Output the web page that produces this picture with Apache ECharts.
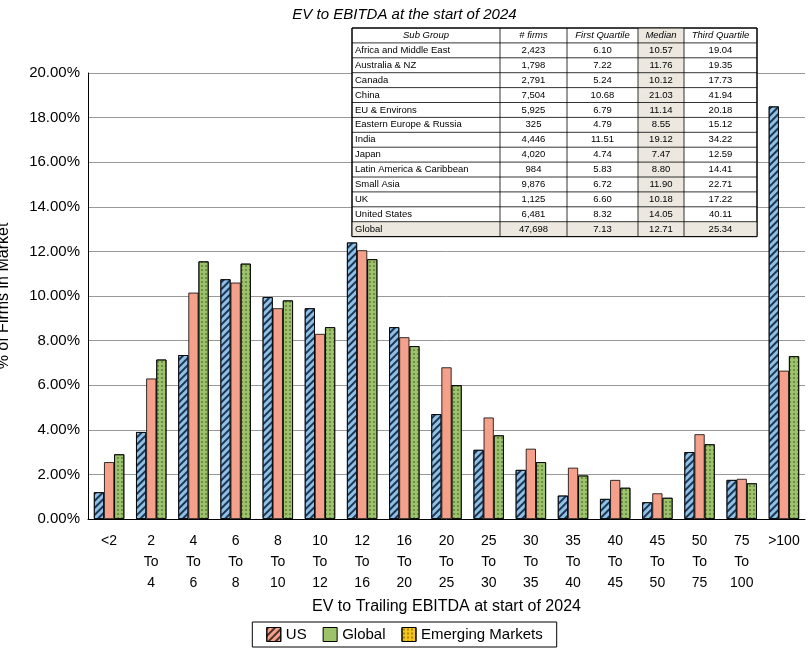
<!DOCTYPE html>
<html><head><meta charset="utf-8">
<script src="https://cdn.jsdelivr.net/npm/echarts@6/dist/echarts.min.js"></script>
<style>html,body{margin:0;padding:0;background:#fff}#c{width:809px;height:651px}</style>
</head><body><div id="c"></div>
<script>
const categories=["<2","2\nTo\n4","4\nTo\n6","6\nTo\n8","8\nTo\n10","10\nTo\n12","12\nTo\n16","16\nTo\n20","20\nTo\n25","25\nTo\n30","30\nTo\n35","35\nTo\n40","40\nTo\n45","45\nTo\n50","50\nTo\n75","75\nTo\n100",">100"];
const usValues=[1.2,3.9,7.35,10.75,9.95,9.45,12.4,8.6,4.7,3.1,2.2,1.05,0.9,0.75,3.0,1.75,18.5];
const globalValues=[2.55,6.3,10.15,10.6,9.45,8.3,12.05,8.15,6.8,4.55,3.15,2.3,1.75,1.15,3.8,1.8,6.65];
const emValues=[2.9,7.15,11.55,11.45,9.8,8.6,11.65,7.75,6.0,3.75,2.55,1.95,1.4,0.95,3.35,1.6,7.3];
const tableHeader=["Sub Group","# firms","First Quartile","Median","Third Quartile"];
const tableRows=[
["Africa and Middle East","2,423","6.10","10.57","19.04"],
["Australia & NZ","1,798","7.22","11.76","19.35"],
["Canada","2,791","5.24","10.12","17.73"],
["China","7,504","10.68","21.03","41.94"],
["EU & Environs","5,925","6.79","11.14","20.18"],
["Eastern Europe & Russia","325","4.79","8.55","15.12"],
["India","4,446","11.51","19.12","34.22"],
["Japan","4,020","4.74","7.47","12.59"],
["Latin America & Caribbean","984","5.83","8.80","14.41"],
["Small Asia","9,876","6.72","11.90","22.71"],
["UK","1,125","6.60","10.18","17.22"],
["United States","6,481","8.32","14.05","40.11"],
["Global","47,698","7.13","12.71","25.34"]];
const colX=[352,500,567,638,684,757];
const tTop=28,rowH=14.9;
const g=[];
const nRows=tableRows.length+1;
const tBottom=tTop+rowH*nRows;
g.push({type:'rect',shape:{x:colX[0],y:tTop,width:colX[5]-colX[0],height:tBottom-tTop},style:{fill:'#fff',stroke:'#000',lineWidth:1},z:10});
g.push({type:'rect',shape:{x:colX[3],y:tTop,width:colX[4]-colX[3],height:tBottom-tTop},style:{fill:'#ece8df'},z:10});
g.push({type:'rect',shape:{x:colX[0],y:tTop+rowH*(nRows-1),width:colX[5]-colX[0],height:rowH},style:{fill:'#ece8df'},z:10});
for(let i=1;i<nRows;i++)g.push({type:'line',shape:{x1:colX[0],y1:tTop+rowH*i,x2:colX[5],y2:tTop+rowH*i},style:{stroke:'#000',lineWidth:0.8},z:11});
for(let j=1;j<5;j++)g.push({type:'line',shape:{x1:colX[j],y1:tTop,x2:colX[j],y2:tBottom},style:{stroke:'#000',lineWidth:0.8},z:11});
g.push({type:'rect',shape:{x:colX[0],y:tTop,width:colX[5]-colX[0],height:tBottom-tTop},style:{fill:null,stroke:'#000',lineWidth:1},z:12});
const allRows=[tableHeader].concat(tableRows);
allRows.forEach((r,i)=>{r.forEach((t,j)=>{
 const left=(j===0&&i>0);
 g.push({type:'text',z:13,style:{text:t,x:left?colX[0]+3:(colX[j]+colX[j+1])/2,y:tTop+rowH*i+rowH/2,align:left?'left':'center',verticalAlign:'middle',font:(i===0?'italic ':'')+'9.5px "Liberation Sans", Arial',fill:'#000'}});
});});
const chart=echarts.init(document.getElementById('c'));
const mk=(name,data,color,decal)=>({name,type:'bar',data,barGap:'0%',barCategoryGap:'28%',itemStyle:{color,borderColor:'#000',borderWidth:0.8,decal}});
chart.setOption({
 animation:false,
 aria:{enabled:false},
 title:{text:'EV to EBITDA at the start of 2024',left:'center',top:2,textStyle:{fontStyle:'italic',fontWeight:'normal',fontSize:15,fontFamily:'Liberation Sans',color:'#000'}},
 grid:{left:88,right:4,top:73,bottom:132,containLabel:false,outerBoundsMode:'none'},
 legend:{bottom:4,left:'center',icon:'rect',itemWidth:14,itemHeight:14,itemGap:16,borderColor:'#000',borderWidth:1,padding:[5,14],textStyle:{fontSize:15,fontFamily:'Liberation Sans',color:'#000'},
  data:[{name:'US',itemStyle:{color:'#f4a08a',borderColor:'#000',borderWidth:1,decal:{symbol:'rect',dashArrayX:[1,0],dashArrayY:[2,3],rotation:-Math.PI/4,color:'rgba(0,0,0,0.7)'}}},
        {name:'Global',itemStyle:{color:'#9cc26a',borderColor:'#000',borderWidth:1}},
        {name:'Emerging Markets',itemStyle:{color:'#f5c518',borderColor:'#000',borderWidth:1,decal:{symbol:'circle',symbolSize:0.4,dashArrayX:[4,0],dashArrayY:[4,0],color:'rgba(0,0,0,0.7)'}}}]},
 xAxis:{type:'category',data:categories,name:'EV to Trailing EBITDA at start of 2024',nameLocation:'middle',nameGap:75,nameTextStyle:{fontSize:16,fontFamily:'Liberation Sans',color:'#000'},axisTick:{show:false},axisLine:{lineStyle:{color:'#000'}},axisLabel:{interval:0,fontSize:14,lineHeight:21,fontFamily:'Liberation Sans',color:'#000',margin:12}},
 yAxis:{type:'value',min:0,max:20,interval:2,name:'% of Firms in Market',nameLocation:'middle',nameGap:76,nameTextStyle:{fontSize:16,fontFamily:'Liberation Sans',color:'#000'},axisLine:{show:true,lineStyle:{color:'#000'}},splitLine:{lineStyle:{color:'#999'}},axisLabel:{formatter:v=>v.toFixed(2)+'%',fontSize:15,fontFamily:'Liberation Sans',color:'#000'}},
 series:[
  mk('US',usValues,'#8fc1e8',{symbol:'rect',dashArrayX:[1,0],dashArrayY:[2,3],rotation:-Math.PI/4,color:'#1d3550'}),
  mk('Global',globalValues,'#f4a08a',undefined),
  mk('Emerging Markets',emValues,'#9cc26a',{symbol:'circle',symbolSize:0.4,dashArrayX:[4,0],dashArrayY:[4,0],color:'rgba(30,50,10,0.8)'})
 ],
 graphic:g
});
</script></body></html>
